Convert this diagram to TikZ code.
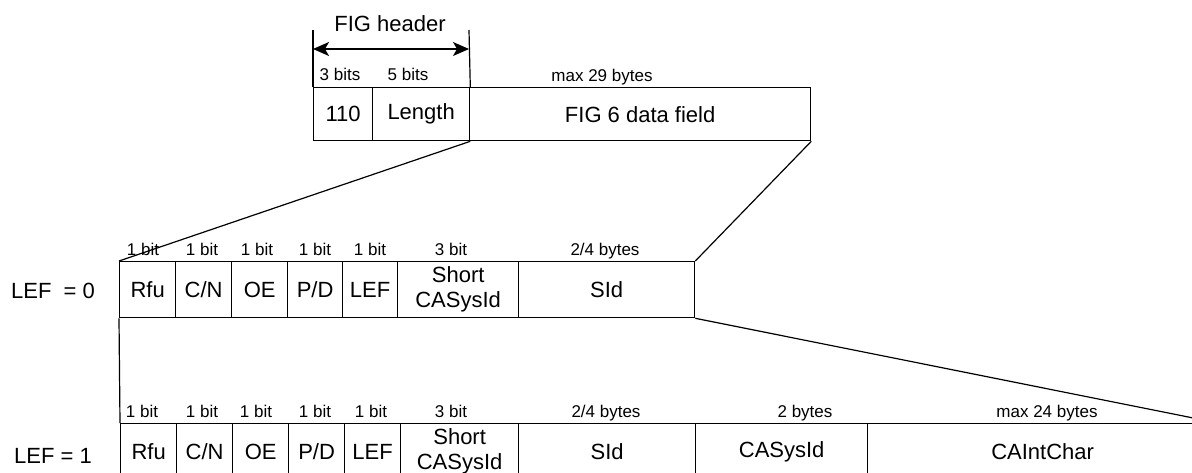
\documentclass[tikz,border=0pt]{standalone}
\usepackage{fontspec}
\setmainfont{Liberation Sans}
\usetikzlibrary{arrows.meta}
\begin{document}
\begin{tikzpicture}[x=1pt,y=-1pt,
  cell/.style={draw,line width=1.3pt,rectangle,anchor=north west,inner sep=0pt,
    minimum height=56pt,font=\fontsize{22}{25}\selectfont,align=center},
  hcell/.style={cell,minimum height=53pt},
  lab/.style={anchor=base,inner sep=0pt,font=\fontsize{17}{20}\selectfont},
  big/.style={inner sep=0pt,font=\fontsize{22}{25}\selectfont},
  link/.style={line width=1.2pt},
  dimarrow/.style={line width=1.2pt,
    {Stealth[length=16pt,width=14pt,inset=4pt]}-{Stealth[length=16pt,width=14pt,inset=4pt]}}]
\useasboundingbox (0,0) rectangle (1192,472);
\clip (0,0) rectangle (1192,472);

% ---- FIG header and data field ----
\node[hcell,minimum width=59pt] (h0) at (313,87) {110};
\node[hcell,minimum width=97pt] (h1) at (372,87) {Length};
\node[hcell,minimum width=341pt] (h2) at (469,87) {\raisebox{-8pt}{FIG 6 data field}};

\node[lab] (lh0) at (340,80) {3 bits};
\node[lab] (lh1) at (408,80) {5 bits};
\node[lab] (lh2) at (602,81) {max 29 bytes};

\coordinate (tickL) at (313,30);
\coordinate (tickR) at (469,30);
\coordinate (arrL) at (313,49);
\coordinate (arrR) at (469,49);
\draw[link] (h0.north west) -- (tickL);
\draw[link] (h1.north east) -- (tickR);
\draw[dimarrow] (arrL) -- (arrR);
\node[big,anchor=base] (fh) at (390,31) {FIG header};

% ---- LEF = 0 ----
\node[big] (lef0) at (53,291) {LEF\ \ = 0};
\node[cell,minimum width=56pt] (r0) at (119,261) {Rfu};
\node[cell,minimum width=56pt] (r1) at (175,261) {C/N};
\node[cell,minimum width=56pt] (r2) at (231,261) {OE};
\node[cell,minimum width=55pt] (r3) at (287,261) {P/D};
\node[cell,minimum width=55pt] (r4) at (342,261) {LEF};
\node[cell,minimum width=121pt] (r5) at (397,261) {Short\\CASysId};
\node[cell,minimum width=176pt] (r6) at (518,261) {SId};

\node[lab] (lr0) at (143,255) {1 bit};
\node[lab] (lr1) at (202,255) {1 bit};
\node[lab] (lr2) at (257,255) {1 bit};
\node[lab] (lr3) at (315,255) {1 bit};
\node[lab] (lr4) at (370,255) {1 bit};
\node[lab] (lr5) at (451,255) {3 bit};
\node[lab] (lr6) at (605,255) {2/4 bytes};

% ---- LEF = 1 ----
\node[big] (lef1) at (53,456) {LEF = 1};
\node[cell,minimum width=56pt] (b0) at (120,423) {Rfu};
\node[cell,minimum width=56pt] (b1) at (176,423) {C/N};
\node[cell,minimum width=56pt] (b2) at (232,423) {OE};
\node[cell,minimum width=56pt] (b3) at (288,423) {P/D};
\node[cell,minimum width=56pt] (b4) at (344,423) {LEF};
\node[cell,minimum width=118pt] (b5) at (400,423) {Short\\CASysId};
\node[cell,minimum width=177pt] (b6) at (518,423) {SId};
\node[cell,minimum width=172pt] (b7) at (695,423) {CASysId};
\node[cell,minimum width=350pt] (b8) at (867,423) {CAIntChar};

\node[lab] (lb0) at (142,417) {1 bit};
\node[lab] (lb1) at (202,417) {1 bit};
\node[lab] (lb2) at (256,417) {1 bit};
\node[lab] (lb3) at (315,417) {1 bit};
\node[lab] (lb4) at (371,417) {1 bit};
\node[lab] (lb5) at (451,417) {3 bit};
\node[lab] (lb6) at (606,417) {2/4 bytes};
\node[lab] (lb7) at (805,417) {2 bytes};
\node[lab] (lb8) at (1047,417) {max 24 bytes};

% ---- expansion lines ----
\draw[link] (h1.south east) -- (r0.north west);
\draw[link] (h2.south east) -- (r6.north east);
\draw[link] (r0.south west) -- (b0.north west);
\draw[link] (r6.south east) -- (b8.north east);
\end{tikzpicture}
\end{document}
